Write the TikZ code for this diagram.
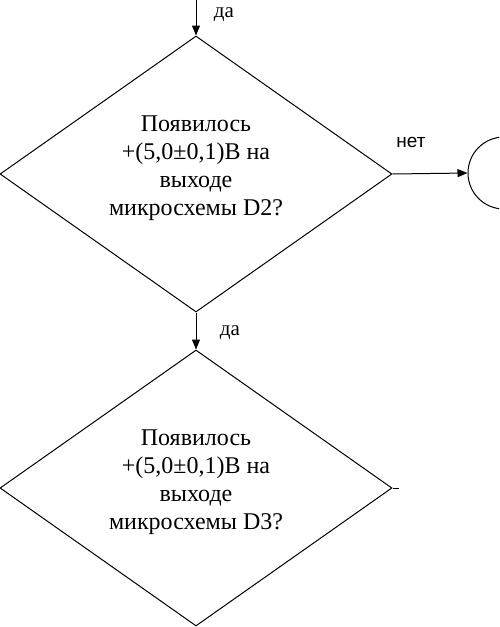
\documentclass[tikz,border=0pt]{standalone}
\usepackage{fontspec}
\setmainfont{Liberation Serif}
\newfontfamily\labfont{Liberation Sans}
\usetikzlibrary{shapes.geometric,arrows.meta}
\begin{document}
\begin{tikzpicture}[x=1pt,y=-1pt,
  dec/.style={diamond,draw,line width=1pt,minimum width=392pt,minimum height=276pt,inner sep=0pt},
  txt/.style={align=center,font=\fontsize{24}{27.8}\selectfont,inner sep=0pt},
  flow/.style={line width=1pt,-{Triangle[length=10pt,width=8pt]}},
  plain/.style={line width=1pt},
  lab/.style={font=\fontsize{21}{23}\selectfont,inner sep=0pt},
  nlab/.style={font=\labfont\fontsize{19}{21}\selectfont,inner sep=0pt}]
\useasboundingbox (0,0) rectangle (499,627);
\clip (0,0) rectangle (499,627);
\node[dec] (d1) at (196,174) {};
\node[txt] (t1) at (196,168) {Появилось\\+(5,0±0,1)В на\\выходе\\микросхемы D2?};
\node[dec] (d2) at (196,488) {};
\node[txt] (t2) at (196,482) {Появилось\\+(5,0±0,1)В на\\выходе\\микросхемы D3?};
\node[circle,draw,line width=1pt,minimum size=72pt,inner sep=0pt] (c) at (504,173) {};
\coordinate (in) at (196,0);
\coordinate (s) at (399,488);
\draw[flow] (in) -- (d1.north);
\draw[flow] (d1.south) -- (d2.north);
\draw[flow] (d1.east) -- (c.west);
\draw[plain] (d2.east) -- (s);
\node[lab] (y1) at (224,15) {да};
\node[lab] (y2) at (230,333) {да};
\node[nlab] (n1) at (411,142) {нет};
\end{tikzpicture}
\end{document}
